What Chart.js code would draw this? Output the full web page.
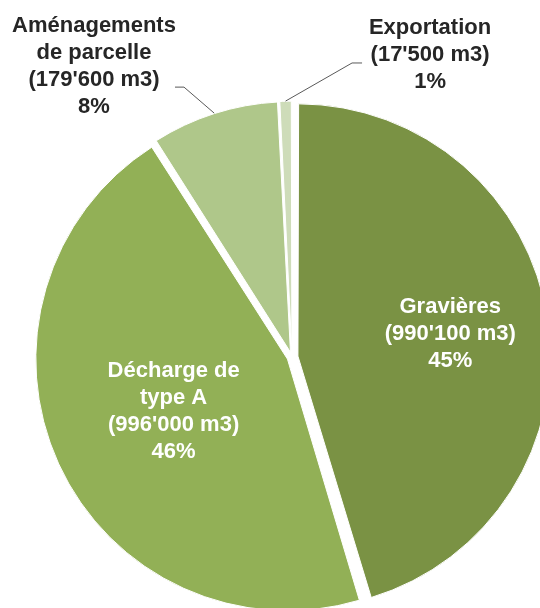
<!DOCTYPE html>
<html>
<head>
<meta charset="utf-8">
<script src="https://cdn.jsdelivr.net/npm/chart.js@4"></script>
<style>
  html, body { margin: 0; padding: 0; background: #fff; }
  #wrap { width: 540px; height: 608px; position: relative; }
</style>
</head>
<body>
<div id="wrap"><canvas id="pieChart"></canvas></div>
<script>
// data
const categories = [['Gravières'], ['Décharge de', 'type A'], ['Aménagements', 'de parcelle'], ['Exportation']];
const volumes = [990100, 996000, 179600, 17500];
const sliceColors = ['#7a9244', '#92b056', '#afc78a', '#cedcb9'];

const total = volumes.reduce((a, b) => a + b, 0);

function fmtVol(v) {
    return '(' + String(v).replace(/\B(?=(\d{3})+(?!\d))/g, "'") + ' m3)';
}

// labels: inside ones sit on the mid-angle, outside ones get a leader line
const pieLabels = {
    id: 'pieLabels',
    afterDatasetsDraw(chart, args, opts) {
        const ctx = chart.ctx;
        const arcs = chart.getDatasetMeta(0).data;
        const lh = 27;
        ctx.save();
        ctx.font = 'bold 22px "Liberation Sans", Arial, sans-serif';
        ctx.textAlign = 'center';
        ctx.textBaseline = 'middle';
        arcs.forEach((arc, i) => {
            const lines = categories[i].concat([fmtVol(volumes[i]), Math.round(volumes[i] / total * 100) + '%']);
            const mid = (arc.startAngle + arc.endAngle) / 2;
            let cx, cy;
            if (opts.inside[i]) {
                cx = arc.x + Math.cos(mid) * arc.outerRadius * opts.inside[i];
                cy = arc.y + Math.sin(mid) * arc.outerRadius * opts.inside[i];
                ctx.fillStyle = '#ffffff';
            } else {
                const o = opts.outside[i];
                const r = arc.outerRadius + o.gap;
                const px = arc.x + Math.cos(mid) * r;
                const py = arc.y + Math.sin(mid) * r;
                ctx.strokeStyle = '#595959';
                ctx.lineWidth = 1;
                ctx.beginPath();
                ctx.moveTo(px, py);
                ctx.lineTo(px + o.elbow[0], py + o.elbow[1]);
                ctx.lineTo(px + o.end[0], py + o.end[1]);
                ctx.stroke();
                cx = px + o.label[0];
                cy = py + o.label[1];
                ctx.fillStyle = '#262626';
            }
            const top = cy - (lines.length - 1) * lh / 2;
            lines.forEach((t, k) => ctx.fillText(t, cx, top + k * lh));
        });
        ctx.restore();
    }
};

let ctxP = document.getElementById('pieChart').getContext('2d');
new Chart(ctxP, {
    type: 'pie',
    data: {
        labels: categories.map(c => c.join(' ')),
        datasets: [{
            data: volumes,
            backgroundColor: sliceColors,
            borderColor: '#ffffff',
            borderWidth: 1,
            offset: [24, 20, 20, 16],
            clip: false
        }]
    },
    options: {
        responsive: true,
        maintainAspectRatio: false,
        animation: false,
        radius: 248,
        layout: {
            padding: { left: 44, right: 0, top: 106, bottom: 0 }
        },
        plugins: {
            legend: { display: false },
            tooltip: { enabled: false },
            pieLabels: {
                inside: [0.645, 0.525, null, null],
                outside: {
                    2: { gap: 8, elbow: [-30.2, -26], end: [-39.2, -26], label: [-120.2, -47] },
                    3: { gap: 8, elbow: [66.5, -38.1], end: [76.5, -38.1], label: [144.5, -46.1] }
                }
            }
        }
    },
    plugins: [pieLabels]
});
</script>
</body>
</html>
